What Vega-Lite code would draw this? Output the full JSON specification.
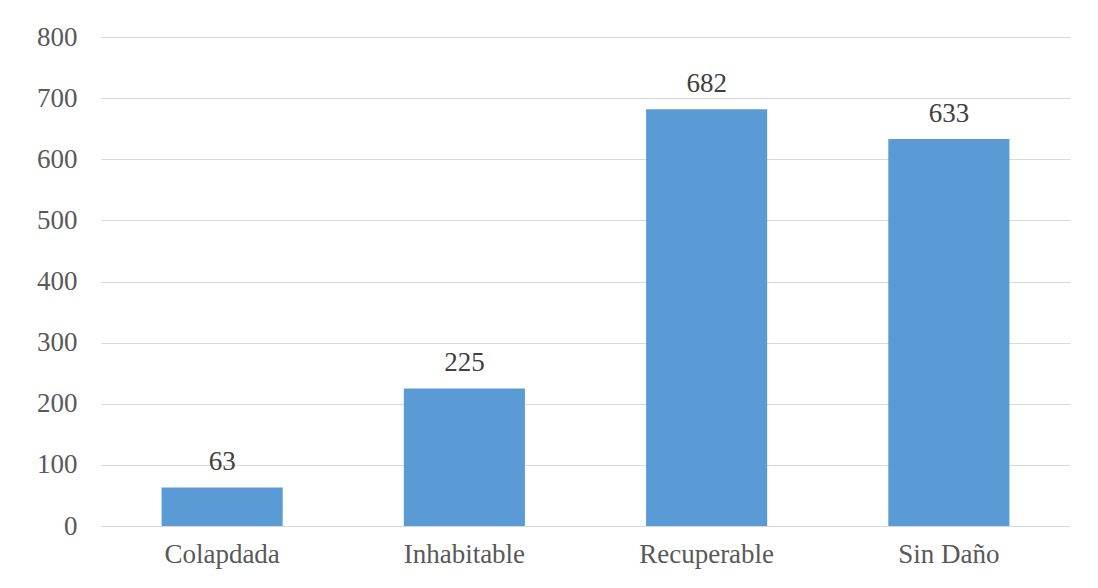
{
  "$schema": "https://vega.github.io/schema/vega-lite/v6.json",
  "autosize": "none",
  "padding": {"left": 101, "top": 37, "right": 28, "bottom": 62},
  "width": 969,
  "height": 489,
  "background": "white",
  "config": {"view": {"stroke": null}, "font": "Liberation Serif"},
  "data": {"values": [
    {"estado": "Colapdada", "n": 63},
    {"estado": "Inhabitable", "n": 225},
    {"estado": "Recuperable", "n": 682},
    {"estado": "Sin Daño", "n": 633}
  ]},
  "encoding": {
    "x": {"field": "estado", "type": "nominal", "sort": null,
      "scale": {"paddingInner": 0.5, "paddingOuter": 0.25},
      "axis": {"title": null, "labelAngle": 0, "domain": false, "ticks": false, "labelOverlap": false,
        "labelFont": "Liberation Serif", "labelFontSize": 27, "labelColor": "#595959", "labelPadding": 15}},
    "y": {"field": "n", "type": "quantitative",
      "scale": {"domain": [0, 800]},
      "axis": {"title": null, "values": [0,100,200,300,400,500,600,700,800], "domain": false, "ticks": false, "labelOverlap": false,
        "gridColor": "#d9d9d9", "gridWidth": 1.2,
        "labelFont": "Liberation Serif", "labelFontSize": 27, "labelColor": "#595959", "labelPadding": 24}}
  },
  "layer": [
    {"mark": {"type": "bar", "color": "#5B9BD5"}},
    {"mark": {"type": "text", "dy": -25, "font": "Liberation Serif", "fontSize": 27, "color": "#404040"},
     "encoding": {"text": {"field": "n", "type": "quantitative"}}}
  ]
}
